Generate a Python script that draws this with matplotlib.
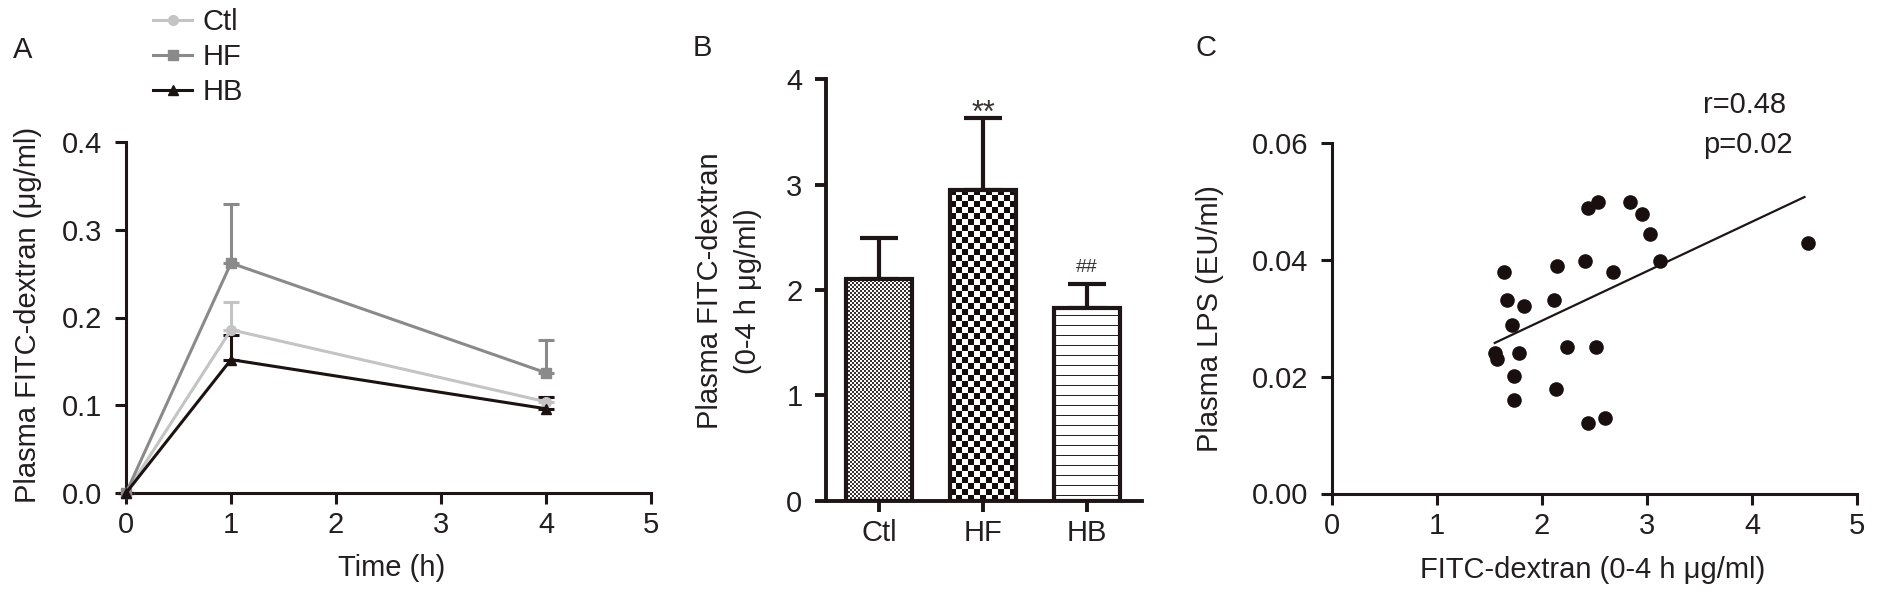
import numpy as np
import matplotlib
matplotlib.use("Agg")
import matplotlib.pyplot as plt
from matplotlib.colors import ListedColormap
from matplotlib.lines import Line2D

# ---- data ----
time_h = [0, 1, 4]
ctl_mean = [0.0, 0.186, 0.104]
ctl_err = [0.0, 0.032, 0.005]
hf_mean = [0.0, 0.262, 0.137]
hf_err = [0.0, 0.067, 0.037]
hb_mean = [0.0, 0.152, 0.096]
hb_err = [0.0, 0.028, 0.013]

groups = ["Ctl", "HF", "HB"]
auc_mean = [2.10, 2.95, 1.83]
auc_err = [0.39, 0.68, 0.23]
auc_marks = ["", "**", "##"]

fitc = [1.64, 1.67, 1.83, 1.71, 1.55, 1.57, 1.78, 1.73, 1.73,
        2.14, 2.11, 2.24, 2.13, 2.41, 2.44, 2.53, 2.51, 2.44,
        2.60, 2.68, 2.84, 2.95, 3.03, 3.12, 4.53]
lps = [0.0379, 0.0331, 0.0321, 0.0289, 0.0241, 0.0231, 0.0241, 0.0201, 0.0160,
       0.0389, 0.0331, 0.0251, 0.0179, 0.0399, 0.0490, 0.0500, 0.0251, 0.0120,
       0.0129, 0.0379, 0.0500, 0.0479, 0.0445, 0.0398, 0.0430]
fit_x = [1.55, 4.50]
fit_y = [0.0258, 0.0508]

W, H = 1890, 599
DARK = "#1e1616"
FS = 21

plt.rcParams["font.family"] = ["Liberation Sans", "DejaVu Sans"]
plt.rcParams["font.size"] = FS
plt.rcParams["text.color"] = "#231f20"
plt.rcParams["axes.labelcolor"] = "#231f20"
plt.rcParams["xtick.color"] = DARK
plt.rcParams["ytick.color"] = DARK
plt.rcParams["xtick.labelcolor"] = "#231f20"
plt.rcParams["ytick.labelcolor"] = "#231f20"

fig = plt.figure(figsize=(W / 100, H / 100), dpi=100)


def px_axes(left, top, right, bottom):
    return fig.add_axes([left / W, 1 - bottom / H, (right - left) / W, (bottom - top) / H])


def style_axes(ax, lw=2.2):
    for s in ["top", "right"]:
        ax.spines[s].set_visible(False)
    for s in ["left", "bottom"]:
        ax.spines[s].set_linewidth(lw)
        ax.spines[s].set_color(DARK)
    ax.tick_params(direction="out", length=8, width=lw, labelsize=FS)
    ax.tick_params(axis="y", pad=9)
    ax.tick_params(axis="x", pad=5)


def fig_text(x, y, s, **kw):
    fig.text(x / W, 1 - y / H, s, **kw)


# ---- panel A ----
axA = px_axes(126, 142, 651, 493)
series = [
    ("Ctl", ctl_mean, ctl_err, "#c4c4c4", "o"),
    ("HF", hf_mean, hf_err, "#8a8a8a", "s"),
    ("HB", hb_mean, hb_err, "#1c1212", "^"),
]
handles = []
for name, m, e, c, mk in series:
    axA.errorbar(time_h, m, yerr=[np.zeros(len(e)), e], color=c, marker=mk,
                 markersize=7, linewidth=2.2, elinewidth=2.2, capsize=5.5,
                 capthick=2.2, clip_on=False, zorder=3)
    handles.append(Line2D([], [], color=c, marker=mk, markersize=7,
                          linewidth=2.2, label=name))
axA.set_xlim(0, 5)
axA.set_ylim(0, 0.4)
axA.set_xticks(range(6))
axA.set_yticks([0, 0.1, 0.2, 0.3, 0.4])
axA.set_yticklabels(["0.0", "0.1", "0.2", "0.3", "0.4"])
style_axes(axA)
axA.legend(handles=handles, loc="upper left", bbox_to_anchor=(153 / W, 1 - 8 / H),
           bbox_transform=fig.transFigure, frameon=False, fontsize=FS,
           handlelength=1.35, handletextpad=0.35, labelspacing=0.24,
           borderpad=0, borderaxespad=0)
fig_text(28, 315, "Plasma FITC-dextran (μg/ml)", rotation=90, ha="center", va="center")
fig_text(392, 568, "Time (h)", ha="center", va="center")
fig_text(23, 50, "A", ha="center", va="center")

# ---- panel B ----
axB = px_axes(826, 79.3, 1142, 500.7)
axB.set_xlim(-0.51, 2.53)
axB.set_ylim(0, 4)
xpos = np.arange(len(groups))
axB.errorbar(xpos, auc_mean, yerr=[np.zeros(len(auc_err)), auc_err], fmt="none",
             ecolor=DARK, elinewidth=3, capsize=14, capthick=3, zorder=1)
bars = axB.bar(xpos, auc_mean, width=0.64, facecolor="none", edgecolor=DARK,
               linewidth=3, zorder=3)

patterns = ["fine", "check", "stripe"]
for bar, kind in zip(bars, patterns):
    x0, y0 = bar.get_x(), bar.get_y()
    w, h = bar.get_width(), bar.get_height()
    p0 = axB.transData.transform((x0, y0))
    p1 = axB.transData.transform((x0 + w, y0 + h))
    nw, nh = int(round(p1[0] - p0[0])), int(round(p1[1] - p0[1]))
    yy, xx = np.indices((nh, nw))
    if kind == "fine":
        z = (xx // 2 + yy // 2) % 2
        cmap = ListedColormap(["#ffffff", "#3a3232"])
    elif kind == "check":
        z = (xx // 6 + yy // 6) % 2
        cmap = ListedColormap(["#ffffff", "#140c0c"])
    else:
        z = (yy % 10 == 5).astype(int)
        cmap = ListedColormap(["#ffffff", "#2a2222"])
    img = axB.imshow(z, cmap=cmap, extent=(x0, x0 + w, y0, y0 + h), origin="lower",
                     interpolation="nearest", aspect="auto", zorder=2)
    img.set_clip_path(bar)
axB.set_xlim(-0.51, 2.53)
axB.set_ylim(0, 4)

mark_style = {"**": (-2.3, 22), "##": (8.3, 14)}
for i, mk in enumerate(auc_marks):
    if mk:
        dy, fs = mark_style[mk]
        axB.annotate(mk, xy=(xpos[i], auc_mean[i] + auc_err[i]), xytext=(0, dy),
                     textcoords="offset points", ha="center", va="baseline",
                     fontsize=fs, color="#3a3434")
axB.set_xticks(xpos)
axB.set_xticklabels(groups)
axB.set_yticks(range(5))
style_axes(axB, lw=2.8)
fig_text(710, 291, "Plasma FITC-dextran", rotation=90, ha="center", va="center")
fig_text(748, 291, "(0-4 h μg/ml)", rotation=90, ha="center", va="center")
fig_text(702, 48, "B", ha="center", va="center")

# ---- panel C ----
axC = px_axes(1332, 143.3, 1857, 493.5)
axC.scatter(fitc, lps, s=90, color="#1a0f0f", zorder=3, clip_on=False)
axC.plot(fit_x, fit_y, color=DARK, linewidth=1.6, zorder=2)
axC.set_xlim(0, 5)
axC.set_ylim(0, 0.06)
axC.set_xticks(range(6))
axC.set_yticks([0, 0.02, 0.04, 0.06])
axC.set_yticklabels(["0.00", "0.02", "0.04", "0.06"])
style_axes(axC)
fig_text(1703, 105, "r=0.48", ha="left", va="center")
fig_text(1703, 145, "p=0.02", ha="left", va="center")
fig_text(1210, 319, "Plasma LPS (EU/ml)", rotation=90, ha="center", va="center")
fig_text(1420, 570, "FITC-dextran (0-4 h μg/ml)", ha="left", va="center")
fig_text(1206, 48, "C", ha="center", va="center")

fig.savefig("out.png", dpi=100, facecolor="white")
